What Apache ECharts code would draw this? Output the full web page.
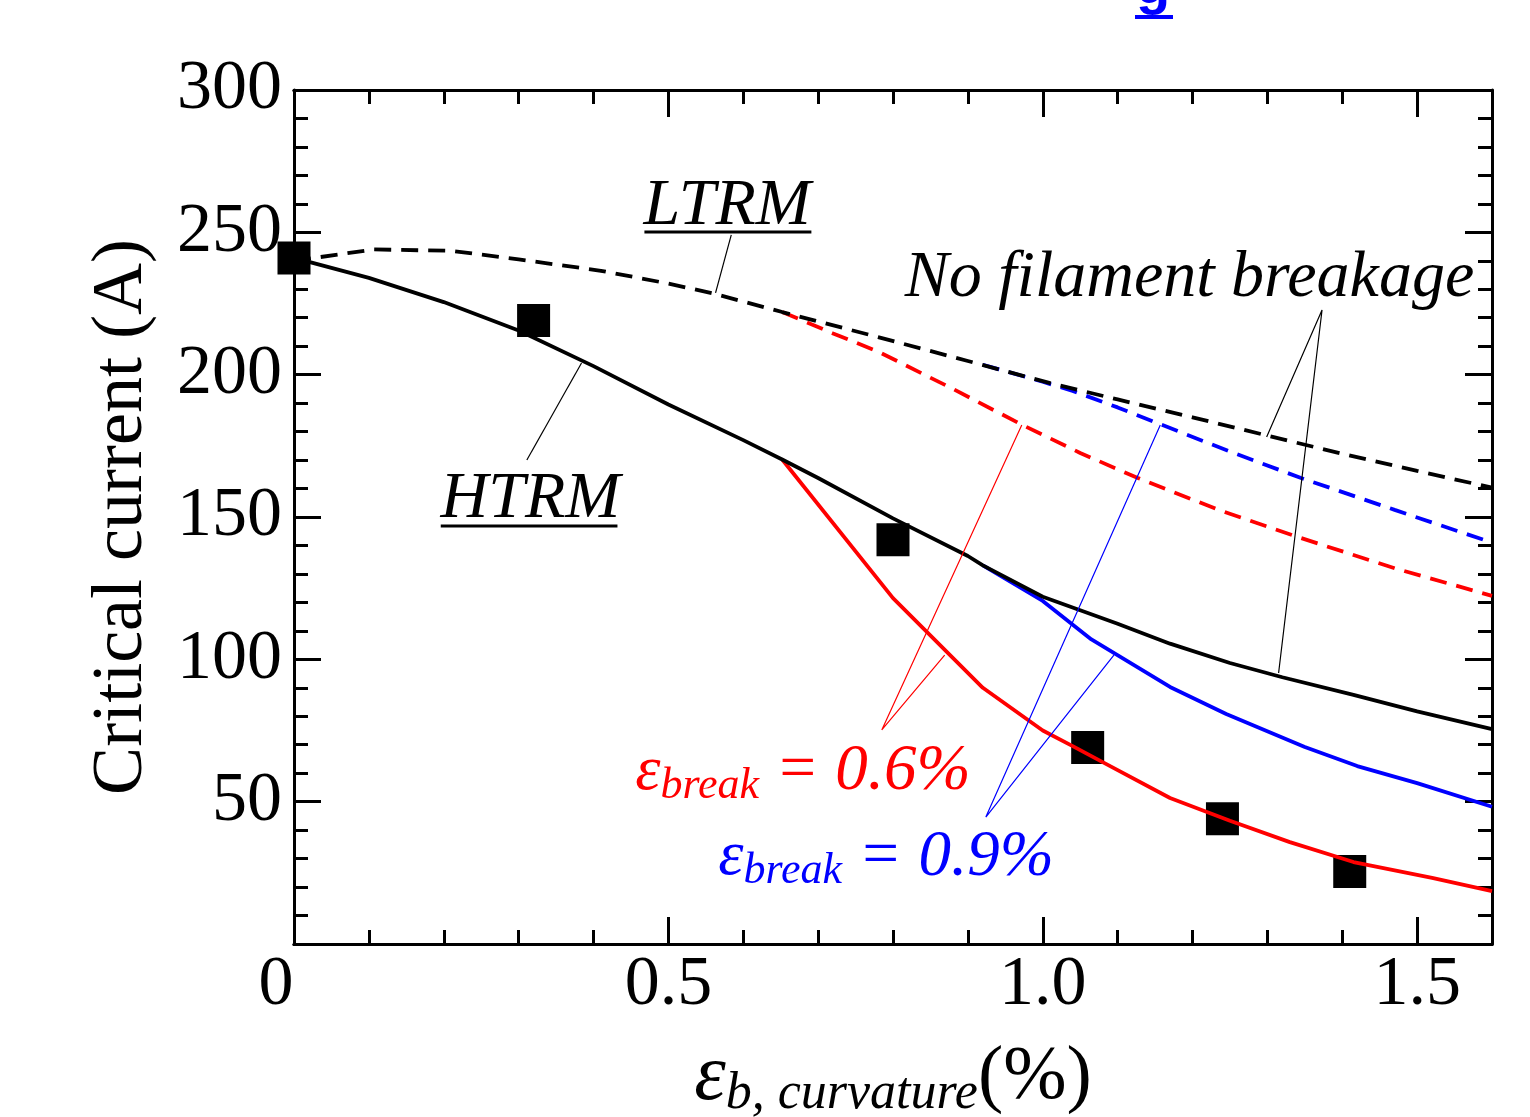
<!DOCTYPE html>
<html>
<head>
<meta charset="utf-8">
<script src="https://cdn.jsdelivr.net/npm/echarts@6/dist/echarts.min.js"></script>
<style>
  html, body { margin: 0; padding: 0; background: #fff; }
  #chart { width: 1530px; height: 1117px; }
</style>
</head>
<body>
<div id="chart"></div>
<script>
// Bending strain (%) vs. critical current (A)

// tick positions
const xMajorTicks = [0, 0.5, 1.0, 1.5];
const xMinorTicks = [0.1, 0.2, 0.3, 0.4, 0.6, 0.7, 0.8, 0.9, 1.1, 1.2, 1.3, 1.4, 1.6];

// measured critical current
const measStrain = [0, 0.32, 0.80, 1.06, 1.24, 1.41];
const measIc = [241, 219, 142, 69, 44, 25.5];

// HTRM, no filament breakage
const htrmX = [0, 0.1, 0.2, 0.3, 0.4, 0.5, 0.6, 0.652, 0.7, 0.8, 0.9, 0.92, 1.0, 1.1, 1.17, 1.25, 1.32, 1.415, 1.5, 1.6];
const htrmY = [241, 234, 225.5, 215.5, 203, 189.5, 177, 170.2, 163.7, 149.5, 136.3, 133, 122, 112.5, 105.5, 98.7, 93.7, 87.5, 81.7, 75.5];

// LTRM, no filament breakage
const ltrmX = [0, 0.107, 0.21, 0.3, 0.41, 0.5, 0.56, 0.652, 0.78, 0.9, 1.01, 1.1, 1.2, 1.3, 1.4, 1.5, 1.6];
const ltrmY = [240, 244, 243.5, 240.5, 236.5, 232, 228.5, 222, 213.2, 204.8, 197, 191.3, 185, 178.6, 172.2, 166.2, 160.3];

// HTRM, ε_break = 0.6%
const htrm06X = [0.652, 0.80, 0.92, 1.0, 1.04, 1.085, 1.17, 1.25, 1.33, 1.415, 1.52, 1.6];
const htrm06Y = [170.2, 121.5, 90, 75, 69.5, 63.2, 51.3, 43.3, 35.8, 28.8, 23.2, 18.6];

// LTRM, ε_break = 0.6%
const ltrm06X = [0.652, 0.72, 0.781, 0.88, 0.973, 1.05, 1.127, 1.235, 1.345, 1.47, 1.6];
const ltrm06Y = [222, 214.5, 208, 195, 182.3, 172.5, 163.7, 152.5, 142.6, 132, 122.3];

// HTRM, ε_break = 0.9%
const htrm09X = [0.92, 1.0, 1.065, 1.17, 1.245, 1.35, 1.42, 1.5, 1.6];
const htrm09Y = [133, 120.5, 107, 90.3, 80.8, 69.2, 62.5, 56.5, 48.2];

// LTRM, ε_break = 0.9%
const ltrm09X = [0.92, 1.0, 1.04, 1.1, 1.153, 1.25, 1.345, 1.47, 1.6];
const ltrm09Y = [203.5, 197.5, 194.3, 188.5, 183, 173, 163.7, 152.5, 141];

// annotation anchors (strain, current)
const ltrmLabelAt = [0.466, 258.9];
const ltrmUnderline = [[0.468, 250.1], [0.691, 250.1]];
const ltrmLeader = [[0.584, 249.1], [0.563, 228.7]];
const htrmLabelAt = [0.195, 156.0];
const htrmUnderline = [[0.196, 146.8], [0.432, 146.8]];
const htrmLeader = [[0.384, 204.1], [0.311, 170.0]];
const nfbLabelAt = [0.815, 233.9];
const nfbLeader = [[1.299, 178.1], [1.373, 222.7], [1.315, 95.2]];
const brk06LabelAt = [0.455, 60.3];
const brk06Leader = [[0.972, 182.3], [0.785, 75.2], [0.869, 101.5]];
const brk09LabelAt = [0.566, 30.4];
const brk09Leader = [[1.157, 182.3], [0.924, 44.6], [1.095, 101.5]];

const SERIF = "'Liberation Serif', 'Times New Roman', serif";
const zip = (xs, ys) => xs.map((x, i) => [x, ys[i]]);

function curve(name, xs, ys, color, dashed, z) {
  return {
    name, type: 'line', data: zip(xs, ys), symbol: 'none', z,
    lineStyle: { color, width: 3.8, opacity: 1, type: dashed ? [17, 10] : 'solid' },
    silent: true
  };
}
function thin(data, color, width) {
  return {
    type: 'line', data, symbol: 'none', z: 6, silent: true,
    lineStyle: { color, width: width || 1.2, opacity: 1 }
  };
}
function note(at, text, color, rich, size) {
  return {
    type: 'scatter', data: [at], symbolSize: 1, z: 7, silent: true,
    itemStyle: { color: 'transparent', opacity: 1 },
    label: {
      show: true, position: 'right', distance: 0, formatter: text, opacity: 1,
      color, fontFamily: SERIF, fontStyle: 'italic', fontSize: size || 66,
      rich: rich || {}
    }
  };
}
function breakRich(color) {
  return {
    e: { fontFamily: SERIF, fontStyle: 'italic', fontSize: 64, lineHeight: 72, color },
    s: { fontFamily: SERIF, fontStyle: 'italic', fontSize: 44, lineHeight: 44, verticalAlign: 'bottom', color },
    q: { fontFamily: SERIF, fontStyle: 'italic', fontSize: 65, lineHeight: 72, color }
  };
}

const tickLine = { color: '#000', width: 3 };
function xAxisDef(position, ticks, len, withLabels) {
  return {
    type: 'value', min: 0, max: 1.6, position,
    axisLine: { show: true, onZero: false, lineStyle: tickLine },
    axisTick: { show: true, inside: true, length: len, customValues: ticks, lineStyle: tickLine },
    axisLabel: withLabels ? {
      show: true, customValues: xMajorTicks, margin: 7,
      fontFamily: SERIF, fontSize: 70, color: '#000',
      formatter: v => v === 0 ? '{z|0}' : v.toFixed(1),
      rich: { z: { fontFamily: SERIF, fontSize: 70, color: '#000', padding: [0, 36, 0, 0] } }
    } : { show: false },
    splitLine: { show: false }
  };
}
function yAxisDef(position, withLabels) {
  return {
    type: 'value', min: 0, max: 300, interval: 50, position,
    axisLine: { show: true, onZero: false, lineStyle: tickLine },
    axisTick: { show: true, inside: true, length: 27, lineStyle: tickLine },
    minorTick: { show: true, splitNumber: 5, length: 14, lineStyle: tickLine },
    axisLabel: withLabels ? {
      show: true, margin: 12, showMinLabel: false,
      fontFamily: SERIF, fontSize: 70, color: '#000'
    } : { show: false },
    splitLine: { show: false }, minorSplitLine: { show: false }
  };
}

const xBottom = xAxisDef('bottom', xMajorTicks, 27, true);
xBottom.name = '{e|ε}{s|b, curvature}{p|(%)}';
xBottom.nameLocation = 'middle';
xBottom.nameGap = 92;
xBottom.nameTextStyle = {
  rich: {
    e: { fontFamily: SERIF, fontStyle: 'italic', fontSize: 80, lineHeight: 84, color: '#000' },
    s: { fontFamily: SERIF, fontStyle: 'italic', fontSize: 52, lineHeight: 48, verticalAlign: 'bottom', color: '#000' },
    p: { fontFamily: SERIF, fontSize: 76, lineHeight: 84, color: '#000' }
  }
};

const yLeft = yAxisDef('left', true);
yLeft.name = 'Critical current (A)';
yLeft.nameLocation = 'middle';
yLeft.nameGap = 136;
yLeft.nameTextStyle = { fontFamily: SERIF, fontSize: 72, color: '#000' };

const chart = echarts.init(document.getElementById('chart'), null, { renderer: 'canvas' });
chart.setOption({
  animation: false,
  backgroundColor: '#fff',
  grid: { left: 294, right: 38, top: 90, bottom: 173, containLabel: false, outerBoundsMode: 'none' },
  xAxis: [
    xBottom,
    xAxisDef('bottom', xMinorTicks, 14, false),
    xAxisDef('top', xMajorTicks, 27, false),
    xAxisDef('top', xMinorTicks, 14, false)
  ],
  yAxis: [yLeft, yAxisDef('right', false)],
  graphic: [
    { type: 'text', left: 1136, top: -40, z: 10,
      style: { text: 'g', font: "bold 56px 'Liberation Sans', sans-serif", fill: '#0000ff' } },
    { type: 'rect', shape: { x: 1135, y: 15, width: 38, height: 4 }, z: 10, style: { fill: '#0000ff' } }
  ],
  series: [
    {
      name: 'Measured', type: 'scatter', data: zip(measStrain, measIc),
      symbol: 'rect', symbolSize: 33, itemStyle: { color: '#000', opacity: 1 }, z: 2, silent: true
    },
    curve('LTRM 0.6%', ltrm06X, ltrm06Y, '#ff0000', true, 3),
    curve('LTRM 0.9%', ltrm09X, ltrm09Y, '#0000ff', true, 3),
    curve('HTRM 0.6%', htrm06X, htrm06Y, '#ff0000', false, 3),
    curve('HTRM 0.9%', htrm09X, htrm09Y, '#0000ff', false, 3),
    curve('LTRM', ltrmX, ltrmY, '#000', true, 4),
    curve('HTRM', htrmX, htrmY, '#000', false, 4),
    thin(ltrmLeader, '#000'),
    thin(htrmLeader, '#000'),
    thin(nfbLeader, '#000'),
    thin(brk06Leader, '#ff0000'),
    thin(brk09Leader, '#0000ff'),
    thin(ltrmUnderline, '#000', 3),
    thin(htrmUnderline, '#000', 3),
    note(ltrmLabelAt, 'LTRM', '#000'),
    note(htrmLabelAt, 'HTRM', '#000'),
    note(nfbLabelAt, 'No filament breakage', '#000'),
    note(brk06LabelAt, '{e|ε}{s|break}{q| = 0.6%}', '#ff0000', breakRich('#ff0000')),
    note(brk09LabelAt, '{e|ε}{s|break}{q| = 0.9%}', '#0000ff', breakRich('#0000ff'))
  ]
});
</script>
</body>
</html>
